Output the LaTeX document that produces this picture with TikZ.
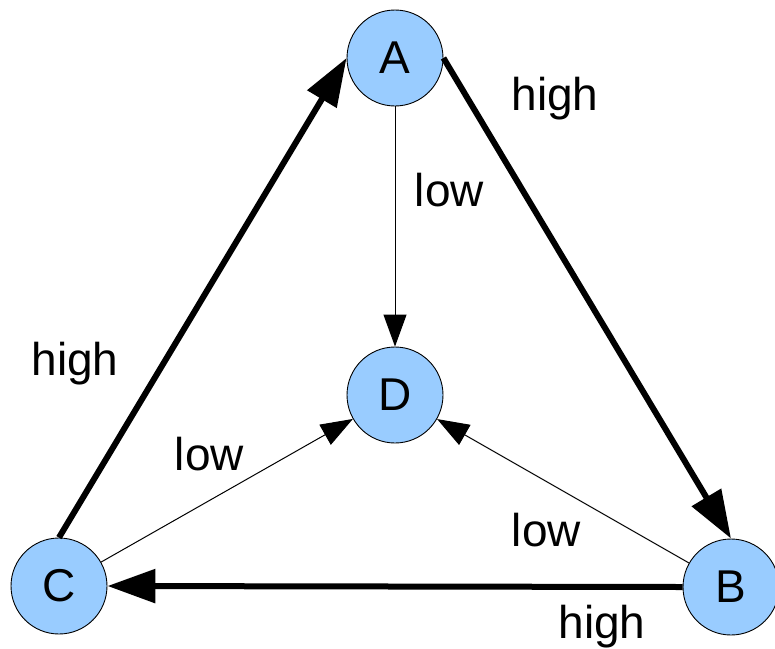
\documentclass[tikz,border=0pt]{standalone}
\usepackage{fontspec}
\setmainfont{Liberation Sans}
\usetikzlibrary{arrows.meta}
\definecolor{nodeblue}{RGB}{153,204,255}
\tikzset{
  vertex/.style={circle, draw=black, line width=0.9pt, fill=nodeblue, minimum size=96pt, inner sep=0pt, font=\fontsize{46}{50}\selectfont},
  heavy/.style={line width=6pt, -{Triangle[length=48pt,width=33pt]}},
  light/.style={line width=1pt, -{Triangle[length=32pt,width=23pt]}},
  lbl/.style={anchor=base, inner sep=0pt, font=\fontsize{46}{50}\selectfont}
}
\begin{document}
\begin{tikzpicture}[x=1pt,y=-1pt]
\useasboundingbox (0,0) rectangle (775,648);
\node[vertex] (A) at (395,58) {A};
\node[vertex] (D) at (395,395) {D};
\node[vertex] (C) at (59,586) {C};
\node[vertex] (B) at (731,587) {B};
\draw[heavy] (C.north) -- (A.west);
\draw[heavy] (A.east) -- (B.north);
\draw[heavy] (B.west) -- (C.east);
\draw[light] (A.south) -- (D.north);
\draw[light] (C) -- (D);
\draw[light] (B) -- (D);
\node[lbl] (h1) at (555,110) {high};
\node[lbl] (l1) at (449.5,206.5) {low};
\node[lbl] (h2) at (75,375) {high};
\node[lbl] (l2) at (209.5,470) {low};
\node[lbl] (l3) at (546.5,546) {low};
\node[lbl] (h3) at (602,638) {high};
\end{tikzpicture}
\end{document}
